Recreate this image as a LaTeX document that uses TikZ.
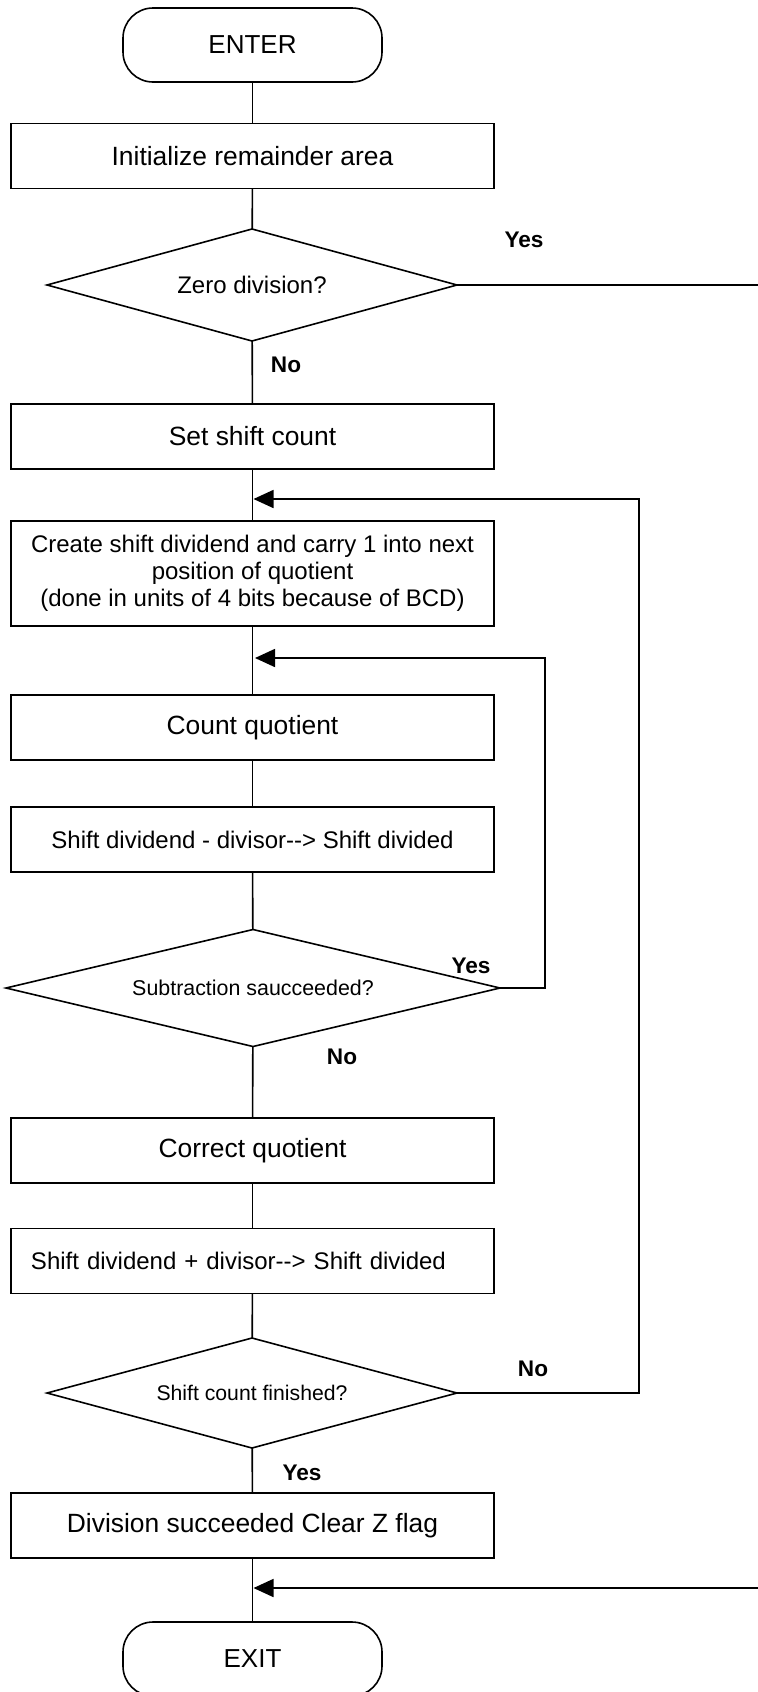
\documentclass[tikz,border=0pt]{standalone}
\usepackage{fontspec}
\setmainfont{Liberation Sans}
\usetikzlibrary{shapes.geometric,arrows.meta}
\begin{document}
\begin{tikzpicture}[x=0.5pt,y=-0.5pt,
  line width=0.8pt,
  term/.style={draw, rounded corners=15pt, minimum width=129.5pt, minimum height=37pt, inner sep=0pt, outer sep=0pt, font=\fontsize{13}{15}\selectfont},
  proc/.style={draw, minimum width=241.5pt, minimum height=32.5pt, inner sep=0pt, outer sep=0pt, align=center, font=\fontsize{13.2}{15}\selectfont},
  decis/.style={draw, diamond, inner sep=0pt, outer sep=0pt, aspect=3.7},
  lab/.style={font=\fontsize{11.3}{13}\selectfont\bfseries, inner sep=0pt},
  arr/.style={-{Triangle[length=10pt,width=9pt]}}
]
\useasboundingbox (0,0) rectangle (758,1692);

\node[term] (enter) at (252.5,45) {ENTER};
\node[proc] (init) at (252.5,156) {Initialize remainder area};
\node[decis, minimum width=205pt, minimum height=56pt, font=\fontsize{12}{14}\selectfont] (d1) at (252,285) {Zero division?};
\node[proc] (set) at (252.5,436.5) {Set shift count};
\node[proc, minimum height=52.5pt, font=\fontsize{12}{13.5}\selectfont] (create) at (252.5,573.5) {Create shift dividend and carry 1 into next\\position of quotient\\(done in units of 4 bits because of BCD)};
\node[proc] (count) at (252.5,727.5) {Count quotient};
\node[proc, font=\fontsize{12}{14}\selectfont] (sub) at (252.5,839.5) {Shift dividend - divisor-{}-{}> Shift divided};
\node[decis, minimum width=247pt, minimum height=58.5pt, aspect=4.2, font=\fontsize{10.7}{13}\selectfont] (d2) at (253,988) {Subtraction saucceeded?};
\node[proc] (corr) at (252.5,1150.5) {Correct quotient};
\node[proc, text width=221.5pt, inner xsep=10pt, align=left, font=\fontsize{12}{14}\selectfont] (add) at (252.5,1261) {Shift dividend + divisor-{}-{}> Shift divided};
\node[decis, minimum width=205pt, minimum height=55pt, font=\fontsize{10.6}{13}\selectfont] (d3) at (252,1393) {Shift count finished?};
\node[proc] (div) at (252.5,1525.5) {Division succeeded Clear Z flag};
\node[term] (exit) at (252.5,1659) {EXIT};

\draw (enter) -- (init);
\draw (init) -- (d1);
\draw (d1) -- (set);
\draw (set) -- (create);
\draw (create) -- (count);
\draw (count) -- (sub);
\draw (sub) -- (d2);
\draw (d2) -- (corr);
\draw (corr) -- (add);
\draw (add) -- (d3);
\draw (d3) -- (div);
\draw (div) -- (exit);

\coordinate (yesend) at (758,285);
\coordinate (j1) at (253.5,499);
\coordinate (j2) at (255,658);
\coordinate (l1) at (639,0);
\coordinate (l2) at (545,0);
\coordinate (zin) at (758,1588);
\coordinate (j3) at (253.5,1588);

\draw (d1.east) -- (yesend);
\draw[arr] (d3.east) -- (d3.east -| l1) -- (l1 |- j1) -- (j1);
\draw[arr] (d2.east) -- (d2.east -| l2) -- (l2 |- j2) -- (j2);
\draw[arr] (zin) -- (j3);

\node[lab] (y1) at (524,240) {Yes};
\node[lab] (n1) at (286,365) {No};
\node[lab] (y2) at (471,966) {Yes};
\node[lab] (n2) at (342,1057) {No};
\node[lab] (n3) at (533,1369) {No};
\node[lab] (y3) at (302,1473) {Yes};
\end{tikzpicture}
\end{document}
